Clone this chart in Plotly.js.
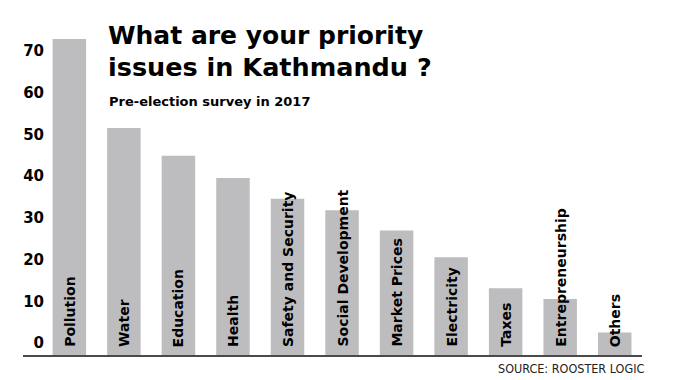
<!DOCTYPE html>
<html>
<head>
<meta charset="utf-8">
<script src="https://cdn.plot.ly/plotly-3.0.1.min.js"></script>
<style>html,body{margin:0;padding:0;background:#fff;}#chart{width:677px;height:380px;}</style>
</head>
<body>
<div id="chart"></div>
<script>
// Data (share of respondents, %)
const categories = ["Pollution", "Water", "Education", "Health", "Safety and Security",
  "Social Development", "Market Prices", "Electricity", "Taxes", "Entrepreneurship", "Others"];
const values = [75.7, 54.4, 47.7, 42.4, 37.4, 34.7, 29.8, 23.4, 16.0, 13.4, 5.4];
const tickValues = [0, 10, 20, 30, 40, 50, 60, 70];
const tickLabels = ["0", "10", "20", "30", "40", "50", "60", "70"];
const titleLines = ["What are your priority", "issues in Kathmandu ?"];
const subtitleText = "Pre-election survey in 2017";
const sourceText = "SOURCE: ROOSTER LOGIC";

const W = 677, H = 380;
const M = {l: 23, r: 35, t: 21, b: 25};
const PW = W - M.l - M.r, PH = H - M.t - M.b;
const px2x = p => (p - M.l) / PW;
const px2y = p => 1 - (p - M.t) / PH;

const boldFont = "DejaVu Sans, Verdana, sans-serif";

const annotations = [];
categories.forEach((c, i) => {
  annotations.push({
    x: c, y: 0, xref: "x", yref: "y",
    text: c, showarrow: false, textangle: -90,
    xanchor: "center", yanchor: "bottom", yshift: 6,
    font: {family: boldFont, size: 14, color: "#000", weight: 700}
  });
});
annotations.push({
  xref: "paper", yref: "paper", x: px2x(106), y: px2y(35.9),
  xanchor: "left", yanchor: "middle", showarrow: false, text: titleLines[0],
  font: {family: boldFont, size: 25, color: "#000", weight: 700}
});
annotations.push({
  xref: "paper", yref: "paper", x: px2x(106), y: px2y(66.9),
  xanchor: "left", yanchor: "middle", showarrow: false, text: titleLines[1],
  font: {family: boldFont, size: 25.5, color: "#000", weight: 700}
});
annotations.push({
  xref: "paper", yref: "paper", x: px2x(107), y: px2y(101.5),
  xanchor: "left", yanchor: "middle", showarrow: false, text: subtitleText,
  font: {family: boldFont, size: 13, color: "#000", weight: 700}
});
annotations.push({
  xref: "paper", yref: "paper", x: px2x(646), y: px2y(368.3),
  xanchor: "right", yanchor: "middle", showarrow: false, text: sourceText,
  font: {family: "DejaVu Sans Condensed, Liberation Sans Narrow, Arial Narrow, sans-serif", size: 12.5, color: "#222"}
});

const trace = {
  type: "bar", x: categories, y: values,
  marker: {color: "#bdbdc0", line: {width: 0}},
  hoverinfo: "skip"
};

const layout = {
  width: W, height: H,
  margin: M,
  paper_bgcolor: "#fff", plot_bgcolor: "#fff",
  showlegend: false,
  bargap: 0.386,
  xaxis: {
    type: "category", range: [-0.85, 10.5],
    showline: true, linecolor: "#4a4a4a", linewidth: 2,
    showticklabels: false, ticks: "", showgrid: false, zeroline: false, fixedrange: true
  },
  yaxis: {
    range: [0, 80], anchor: "free", position: px2x(44), side: "left",
    tickmode: "array", tickvals: tickValues, ticktext: tickLabels,
    ticklabelshift: -12,
    showline: false, showgrid: false, zeroline: false, ticks: "",
    tickfont: {family: boldFont, size: 15, color: "#000", weight: 700},
    fixedrange: true
  },
  annotations: annotations
};

Plotly.newPlot("chart", [trace], layout, {displayModeBar: false, staticPlot: true});
</script>
</body>
</html>
